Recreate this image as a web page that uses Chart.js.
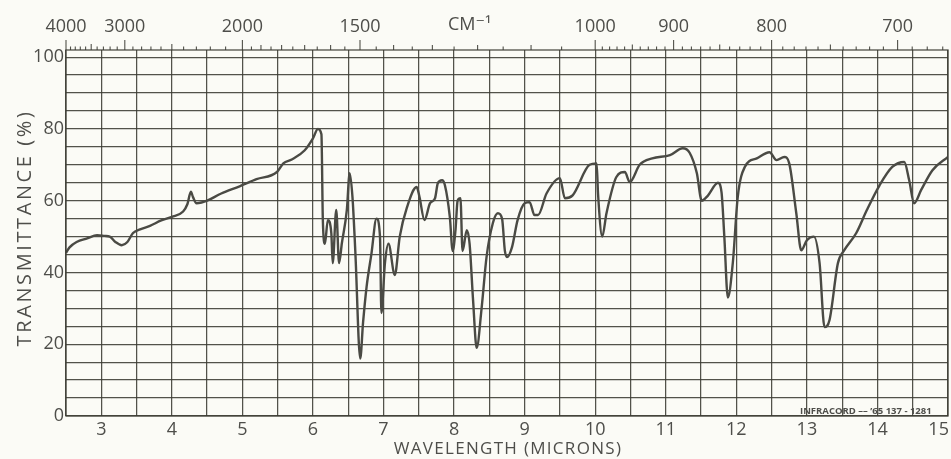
<!DOCTYPE html>
<html><head><meta charset="utf-8">
<script src="https://cdn.jsdelivr.net/npm/chart.js@4.4.1/dist/chart.umd.min.js"></script>
<style>html,body{margin:0;padding:0;background:#fbfbf6}#wrap{width:951px;height:459px}</style>
</head><body><div id="wrap"><canvas id="c"></canvas></div>
<script>
// Wavelength in microns
const wavelengths = [2.5,2.55,2.65,2.8,2.94,3.05,3.12,3.2,3.29,3.37,3.45,3.55,3.69,3.85,4.0,4.16,4.22,4.27,4.3,4.35,4.42,4.5,4.7,4.96,5.2,5.49,5.58,5.7,5.88,6.0,6.07,6.12,6.14,6.17,6.21,6.26,6.28,6.33,6.37,6.41,6.48,6.52,6.56,6.6,6.67,6.71,6.76,6.83,6.9,6.95,6.97,7.02,7.07,7.16,7.23,7.33,7.47,7.51,7.58,7.66,7.73,7.77,7.83,7.87,7.94,7.98,8.02,8.05,8.09,8.12,8.18,8.22,8.27,8.32,8.39,8.46,8.55,8.62,8.68,8.72,8.75,8.82,8.9,9.0,9.07,9.14,9.19,9.31,9.5,9.57,9.68,9.92,10.02,10.04,10.1,10.16,10.3,10.42,10.49,10.63,10.81,11.06,11.24,11.34,11.44,11.51,11.6,11.74,11.79,11.83,11.88,11.95,12.02,12.12,12.29,12.47,12.57,12.68,12.75,12.85,12.92,13.0,13.1,13.18,13.25,13.32,13.44,13.53,13.7,13.85,14.03,14.21,14.38,14.45,14.52,14.62,14.78,15.0];
// Transmittance in percent
const transmittance = [45.5,47,48.5,49.5,50.4,50.2,50,48.5,47.6,48.5,51,52,53,54.5,55.5,57,59,62.5,61,59.3,59.5,60,62,64,66,68,70.4,71.5,74,77.4,80,78.5,54.6,48,54.6,51,42.6,57.4,42.6,48.2,57.4,67.7,61,46,16,26,36,45.4,55,50,28.7,42.6,48,39.3,50,58,63.8,61,54.6,59.3,60.7,64.9,65.7,64.3,55.4,46,51.8,60,60.7,46,51.8,48,32,19,30,44.3,53.8,56.5,55,46,44.3,47,54.6,59.3,59.6,56,56,62,66.3,60.7,61.5,70,70.4,62,50,56.5,66.6,68,65.2,70,71.8,72.7,74.6,73.3,67.7,60,61.5,65,62.4,50,33,42.6,61,69.4,71.8,73.5,71.3,72.2,70.4,56.5,46.2,49,50,42.6,24.8,26.7,42.6,46.2,51,57.4,64.3,69.4,70.8,65.7,59.3,63,68.5,72.2];
const bottomTickLabels = [3,4,5,6,7,8,9,10,11,12,13,14,15];
const yTickLabels = [0,20,40,60,80,100];
const topWavenumbers = [4000,3000,2000,1500,1000,900,800,700];
const topUnitLabel = 'CM⁻¹';
const yTitle = 'TRANSMITTANCE (%)';
const xTitle = 'WAVELENGTH (MICRONS)';
const noteText = 'INFRACORD –– \u201965 137 - 1281';

const gridColor = 'rgba(58,58,50,0.88)';
const textColor = '#4e4e4a';
const fontFam = "'Open Sans', 'DejaVu Sans', sans-serif";

// minor wavenumber ticks
const minorWn = [];
for (let c = 3900; c > 2000; c -= 100) minorWn.push(c);
for (let c = 1950; c > 1000; c -= 50) minorWn.push(c);
for (let c = 990; c >= 670; c -= 10) minorWn.push(c);

const pts = wavelengths.map((w, i) => ({x: w, y: transmittance[i]}));

const bg = {
  id: 'bg',
  beforeDraw(chart) {
    const {ctx, width, height} = chart;
    ctx.save(); ctx.fillStyle = '#fbfbf6'; ctx.fillRect(0, 0, width, height); ctx.restore();
  }
};
const deco = {
  id: 'deco',
  afterDraw(chart) {
    const {ctx, chartArea: a} = chart;
    const xs = chart.scales.x;
    ctx.save();
    ctx.strokeStyle = gridColor; ctx.lineWidth = 1.3;
    ctx.strokeRect(a.left, a.top, a.right - a.left, a.bottom - a.top);
    ctx.lineWidth = 1.1;
    ctx.beginPath();
    topWavenumbers.forEach(c => {
      const px = xs.getPixelForValue(10000 / c);
      ctx.moveTo(px, a.top); ctx.lineTo(px, a.top - 10);
    });
    minorWn.forEach(c => {
      const px = xs.getPixelForValue(10000 / c);
      let h = 3.5;
      if (c % 500 === 0) h = 6;
      else if (c >= 1000 && c % 100 === 0 && c < 2000) h = 5;
      else if (c < 1000 && c % 50 === 0) h = 5.5;
      ctx.moveTo(px, a.top); ctx.lineTo(px, a.top - h);
    });
    ctx.stroke();
    ctx.fillStyle = textColor;
    ctx.font = "18px " + fontFam;
    ctx.textAlign = 'center'; ctx.textBaseline = 'middle';
    ctx.fillText(topUnitLabel, xs.getPixelForValue(8.22), 25);
    // axis titles with letter spacing
    ctx.letterSpacing = '1.3px';
    ctx.font = "17px " + fontFam;
    ctx.fillText(xTitle, (a.left + a.right) / 2 + 1, 449);
    ctx.save();
    ctx.translate(25, 228);
    ctx.rotate(-Math.PI / 2);
    ctx.letterSpacing = '2.6px';
    ctx.font = "20px " + fontFam;
    ctx.fillText(yTitle, 0, 0);
    ctx.restore();
    ctx.letterSpacing = '0px';
    ctx.font = "bold 9.5px " + fontFam;
    ctx.textAlign = 'left';
    ctx.fillText(noteText, 800, 411);
    ctx.restore();
  }
};

new Chart(document.getElementById('c'), {
  type: 'scatter',
  data: {datasets: [{
    data: pts, showLine: true, borderColor: '#4a4a44', borderWidth: 2.4,
    pointRadius: 0, cubicInterpolationMode: 'monotone', fill: false
  }]},
  options: {
    responsive: true, maintainAspectRatio: false, animation: false,
    layout: {padding: {left: 0, right: 3, top: 0, bottom: 0}},
    plugins: {legend: {display: false}, tooltip: {enabled: false}},
    scales: {
      x: {
        type: 'linear', position: 'bottom', min: 2.5, max: 15,
        afterBuildTicks(s) { const t = []; for (let v = 2.5; v <= 15.001; v += 0.5) t.push({value: Math.round(v*10)/10}); s.ticks = t; },
        afterFit(s) { s.height = 43; s.paddingLeft = 0; s.paddingRight = 0; },
        grid: {color: gridColor, lineWidth: 1.25, drawTicks: false},
        border: {display: false},
        ticks: {
          autoSkip: false, maxRotation: 0, padding: 3, color: textColor,
          font: {size: 18, family: fontFam},
          callback(v) { return bottomTickLabels.includes(v) ? (v === 15 ? '15    ' : String(v)) : ''; }
        },
        title: {display: false}
      },
      x2: {
        type: 'linear', position: 'top', min: 2.5, max: 15,
        afterBuildTicks(s) { s.ticks = topWavenumbers.map(c => ({value: 10000 / c})); },
        afterFit(s) { s.height = 50; s.paddingLeft = 0; s.paddingRight = 0; },
        grid: {display: false, drawTicks: false},
        border: {display: false},
        ticks: {
          autoSkip: false, maxRotation: 0, padding: 12, color: textColor,
          font: {size: 18, family: fontFam},
          callback(v, i) { return String(topWavenumbers[i]); }
        }
      },
      y: {
        type: 'linear', min: 0, max: 102,
        afterBuildTicks(s) { const t = []; for (let v = 0; v <= 100; v += 5) t.push({value: v}); s.ticks = t; },
        afterFit(s) { s.width = 66; },
        grid: {color: gridColor, lineWidth: 1.25, drawTicks: false},
        border: {display: false},
        ticks: {
          autoSkip: false, padding: 2, color: textColor,
          font: {size: 18, family: fontFam},
          callback(v) { return yTickLabels.includes(v) ? String(v) : ''; }
        },
        title: {display: false}
      }
    }
  },
  plugins: [bg, deco]
});
</script>
</body></html>
